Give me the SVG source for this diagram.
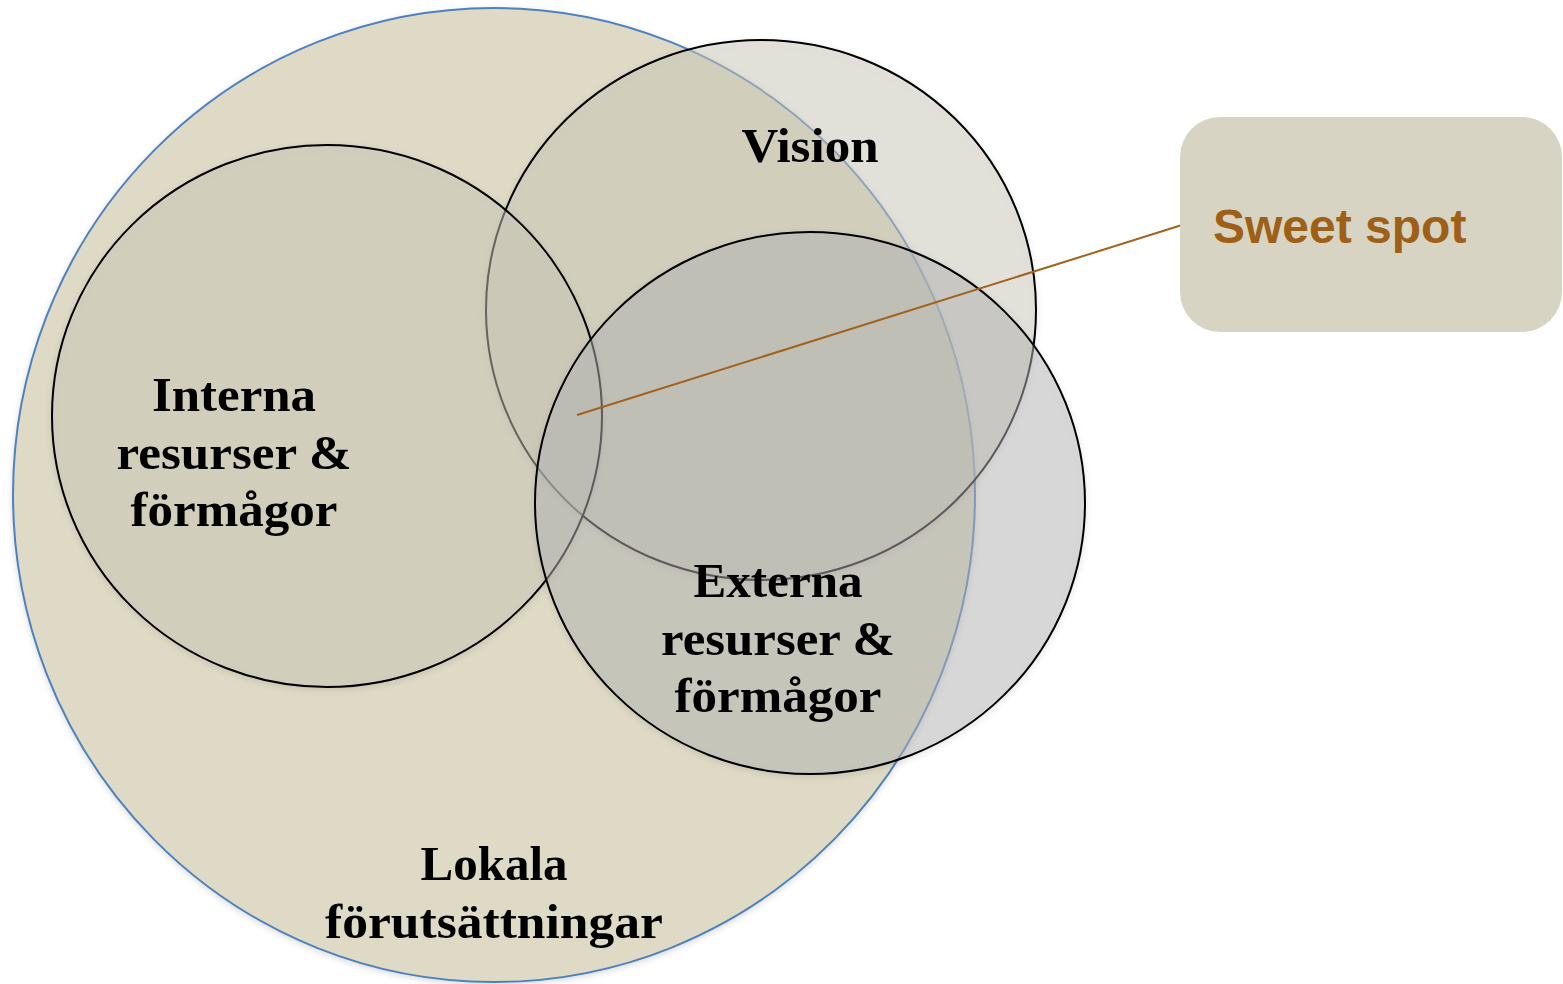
<svg xmlns="http://www.w3.org/2000/svg" width="1563" height="984" viewBox="0 0 1563 984">
<defs>
<filter id="sh" x="-10%" y="-10%" width="120%" height="120%">
<feDropShadow dx="0" dy="2" stdDeviation="3" flood-color="#000" flood-opacity="0.15"/>
</filter>
<style>
.lbl{font-family:"Liberation Serif","Times New Roman",serif;font-weight:bold;font-size:49px;fill:#000;text-anchor:middle}
.circ{fill-opacity:0.48;stroke:#000;stroke-width:2}
.warm{fill:#CAC8BA}
.cool{fill:#B6B6B6}
</style>
</defs>
<rect width="1563" height="984" fill="#fff"/>
<g id="lokala">
<ellipse cx="494" cy="495" rx="481" ry="487" fill="#DEDAC5" stroke="#4F81BD" stroke-width="2" filter="url(#sh)"/>
<text class="lbl" x="494" y="880" textLength="147" lengthAdjust="spacingAndGlyphs">Lokala</text>
<text class="lbl" x="494" y="938" textLength="338" lengthAdjust="spacingAndGlyphs">förutsättningar</text>
</g>
<g id="vision">
<ellipse class="circ warm" cx="761" cy="310" rx="275" ry="270" filter="url(#sh)"/>
<text class="lbl" x="810" y="162" textLength="137" lengthAdjust="spacingAndGlyphs">Vision</text>
</g>
<g id="interna">
<ellipse class="circ warm" cx="327" cy="416" rx="275" ry="271" filter="url(#sh)"/>
<text class="lbl" x="234" y="411" textLength="164" lengthAdjust="spacingAndGlyphs">Interna</text>
<text class="lbl" x="234" y="469" textLength="235" lengthAdjust="spacingAndGlyphs">resurser &amp;</text>
<text class="lbl" x="234" y="526" textLength="207" lengthAdjust="spacingAndGlyphs">förmågor</text>
</g>
<g id="externa">
<ellipse class="circ cool" cx="810" cy="503" rx="275" ry="271" filter="url(#sh)"/>
<text class="lbl" x="778" y="597" textLength="169" lengthAdjust="spacingAndGlyphs">Externa</text>
<text class="lbl" x="778" y="655" textLength="234" lengthAdjust="spacingAndGlyphs">resurser &amp;</text>
<text class="lbl" x="778" y="712" textLength="207" lengthAdjust="spacingAndGlyphs">förmågor</text>
</g>
<g id="connectors">
<line x1="577" y1="415" x2="1182" y2="225" stroke="#A0621C" stroke-width="2"/>
</g>
<g id="sweetspot">
<rect x="1180" y="117" width="382" height="215" rx="40" ry="40" fill="#D7D4C3"/>
<text x="1213" y="243" font-family="'Liberation Sans',Arial,sans-serif" font-weight="bold" font-size="48" fill="#9E5F16">Sweet spot</text>
</g>
</svg>
